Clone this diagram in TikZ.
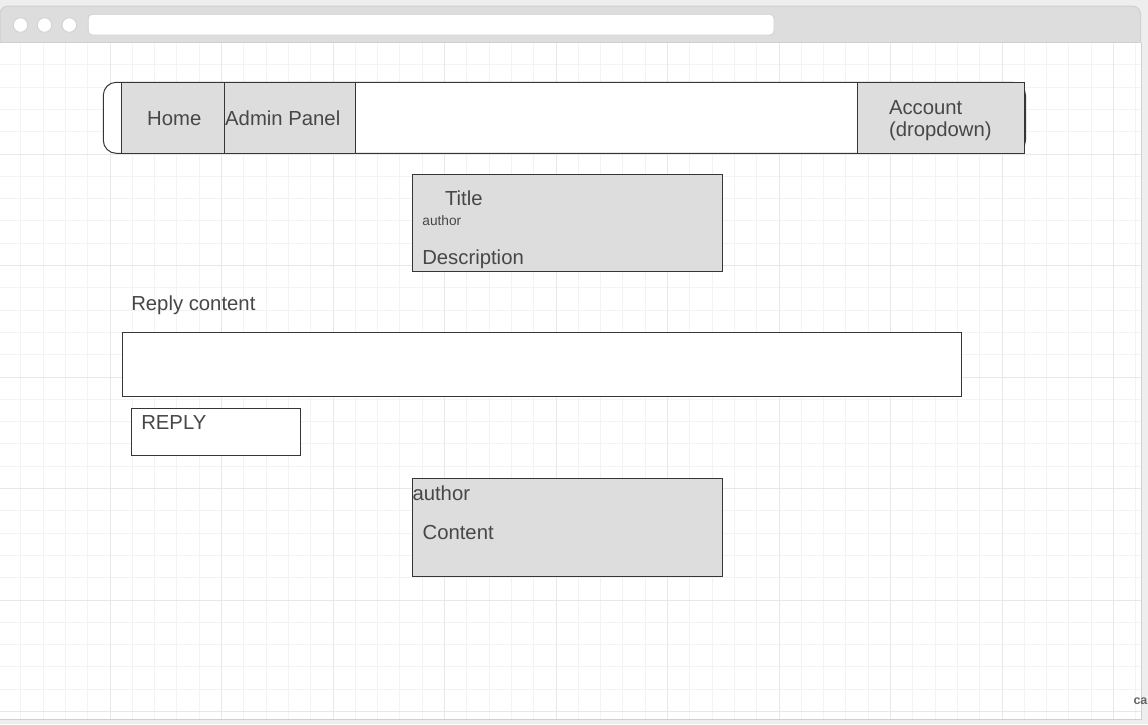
\documentclass[tikz,border=0pt]{standalone}
\usepackage{fontspec}
\setmainfont{Liberation Sans}
\definecolor{bgc}{HTML}{EEEEEE}
\definecolor{chromec}{HTML}{DDDDDD}
\definecolor{chromeline}{HTML}{D0D0D0}
\definecolor{strokec}{HTML}{363636}
\definecolor{boxfill}{HTML}{DDDDDD}
\definecolor{textc}{HTML}{474747}
\definecolor{minorc}{HTML}{F3F3F3}
\definecolor{majorc}{HTML}{E8E8E8}
\begin{document}
\begin{tikzpicture}[x=1pt,y=-1pt,
  minorgrid/.style={draw=minorc, line width=1pt},
  majorgrid/.style={draw=majorc, line width=1pt},
  box/.style={draw=strokec, line width=1pt, inner sep=0pt, outer sep=0pt, anchor=north west},
  graybox/.style={box, fill=boxfill},
  whitebox/.style={box, fill=white},
  lbl/.style={inner sep=0pt, anchor=base west, text=textc, font=\fontsize{20.3}{22.5}\selectfont},
  smalllbl/.style={inner sep=0pt, anchor=base west, text=textc, font=\fontsize{13.7}{16}\selectfont},
  dot/.style={circle, draw=chromeline, fill=white, line width=0.8pt, minimum size=14.5pt, inner sep=0pt}
]
\useasboundingbox (0,0) rectangle (1148,724);
\fill[bgc] (0,0) rectangle (1148,724);
% browser header
\path[fill=chromec, draw=chromeline, line width=1pt, rounded corners=8pt]
  (0,42.5) -- (0,6) -- (1140.5,6) -- (1140.5,42.5);
\node[dot] (d1) at (20.5,25) {};
\node[dot] (d2) at (44.5,25) {};
\node[dot] (d3) at (69.3,25) {};
\node[draw=chromeline, fill=white, rounded corners=4pt, line width=0.8pt, inner sep=0pt, outer sep=0pt,
  minimum width=685.7pt, minimum height=20.7pt, anchor=north west] (addr) at (88.3,14.3) {};
% content area
\fill[white] (0,42.5) rectangle (1140.5,719);
\begin{scope}
\clip (0,42.5) rectangle (1140.5,719);
\foreach \k in {1,...,51} {\draw[minorgrid] ({-1.5+22.3*\k},42.5) -- ({-1.5+22.3*\k},719);}
\foreach \k in {1,...,30} {\draw[minorgrid] (0,{42.5+22.3*\k}) -- (1140.5,{42.5+22.3*\k});}
\foreach \k in {1,...,10} {\draw[majorgrid] ({-1.5+111.5*\k},42.5) -- ({-1.5+111.5*\k},719);}
\foreach \k in {1,...,6} {\draw[majorgrid] (0,{42.5+111.5*\k}) -- (1140.5,{42.5+111.5*\k});}
\end{scope}
\draw[chromeline, line width=1pt] (0,42.5) -- (1141,42.5);
\draw[chromeline, line width=1pt] (1141,42.5) -- (1141,719.3) -- (0,719.3);
% navbar
\node[box, fill=white, rounded corners=13pt, minimum width=922.2pt, minimum height=71pt] (navbar) at (103.3,82.3) {};
\node[graybox, minimum width=103pt, minimum height=71pt] (home) at (121.3,82.3) {};
\node[graybox, minimum width=131.4pt, minimum height=71pt] (admin) at (224.3,82.3) {};
\node[graybox, minimum width=167.4pt, minimum height=71pt] (account) at (857.3,82.3) {};
\node[lbl] (homet) at (147,125.5) {Home};
\node[lbl] (admint) at (225,125.5) {Admin Panel};
\node[lbl] (acct1) at (888.8,114.3) {Account};
\node[lbl] (acct2) at (888.8,136.8) {(dropdown)};
% post card
\node[graybox, minimum width=310.4pt, minimum height=97pt] (post) at (412.3,174.7) {};
\node[lbl] (titlet) at (444.8,205) {Title};
\node[smalllbl] (postauthor) at (422.2,225) {author};
\node[lbl] (desct) at (422.1,264) {Description};
% reply form
\node[lbl] (replylbl) at (131.1,310.6) {Reply content};
\node[whitebox, minimum width=839pt, minimum height=64pt] (replyin) at (122.3,332.3) {};
\node[whitebox, minimum width=169pt, minimum height=46.7pt] (replybtn) at (131.3,408.3) {};
\node[lbl] (replybtnt) at (141.1,429) {REPLY};
% comment card
\node[graybox, minimum width=310.4pt, minimum height=98pt] (comment) at (412.3,478.3) {};
\node[lbl] (cauthor) at (412.3,500) {author};
\node[lbl] (ccontent) at (422.4,539) {Content};
% cut-off label
\node[inner sep=0pt, anchor=base west, text=black!60, font=\fontsize{12.5}{14}\selectfont\bfseries] (cut) at (1133.3,704) {ca};
\end{tikzpicture}
\end{document}
